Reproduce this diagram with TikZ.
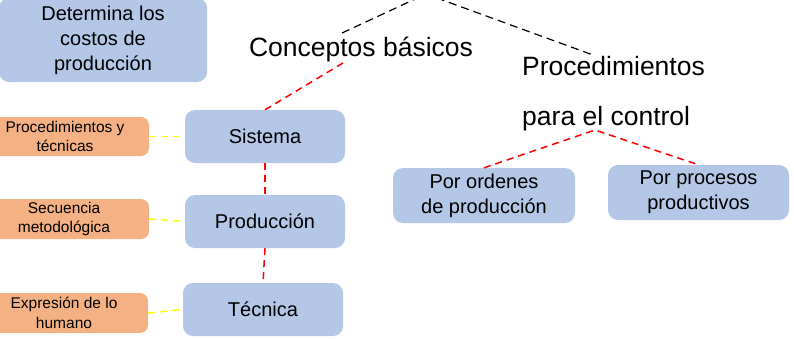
\documentclass[tikz,border=0pt]{standalone}
\usepackage{fontspec}
\setmainfont{Liberation Sans}
\definecolor{boxblue}{HTML}{B4C7E7}
\definecolor{boxorange}{HTML}{F4B183}
\definecolor{lnred}{HTML}{FF0000}
\definecolor{lnyellow}{HTML}{FFFF00}
\begin{document}
\begin{tikzpicture}[x=1pt,y=-1pt,
  bluebox/.style={fill=boxblue, draw=none, rounded corners=10pt, align=center, inner sep=0pt,
    font=\fontsize{20}{25}\selectfont},
  orangebox/.style={fill=boxorange, draw=none, rounded corners=8pt, align=center, inner sep=0pt,
    font=\fontsize{15.5}{19.5}\selectfont},
  bigtext/.style={inner sep=0pt, font=\fontsize{26.5}{30}\selectfont},
  reddash/.style={draw=lnred, line width=1.5pt, dash pattern=on 7pt off 5pt},
  blackdash/.style={draw=black, line width=1.2pt, dash pattern=on 8pt off 5pt},
  yellowdash/.style={draw=lnyellow, line width=1.5pt, dash pattern=on 7pt off 5pt}]
\useasboundingbox (0,0) rectangle (794,338);
\clip (0,0) rectangle (794,338);

% boxes
\node[bluebox, minimum width=208pt, minimum height=84pt] (det) at (103,40) {Determina los\\costos de\\producción};
\node[bluebox, minimum width=160pt, minimum height=53pt] (sis) at (265,136.5) {Sistema};
\node[bluebox, minimum width=160pt, minimum height=53pt] (pro) at (265,221.5) {Producción};
\node[bluebox, minimum width=160pt, minimum height=53pt] (tec) at (263,309.5) {Técnica};
\node[bluebox, minimum width=182pt, minimum height=55pt] (ord) at (484,195.5) {Por ordenes\\de producción};
\node[bluebox, minimum width=181pt, minimum height=55pt] (prc) at (698.5,192.5) {Por procesos\\productivos};

\node[orangebox, minimum width=168pt, minimum height=39pt] (o1) at (65,136.5) {Procedimientos y\\técnicas};
\node[orangebox, minimum width=170pt, minimum height=40pt] (o2) at (64,219) {Secuencia\\metodológica};
\node[orangebox, minimum width=168pt, minimum height=40pt] (o3) at (64,313) {Expresión de lo\\humano};

% free texts
\node[bigtext, anchor=base] (cb) at (361,56) {Conceptos básicos};
\node[bigtext, anchor=base west] (pc1) at (522,75) {Procedimientos};
\node[bigtext, anchor=base west] (pc2) at (522,125) {para el control};

% connector points
\coordinate (apex) at (426,-6);
\coordinate (cbtop) at (342,33);
\coordinate (cbbot) at (343,63);
\coordinate (pctop) at (593,55);
\coordinate (pcbot) at (595,130);

% black dashed
\draw[blackdash] (cbtop) -- (apex) -- (pctop);

% red dashed
\draw[reddash] (cbbot) -- (sis.north);
\draw[reddash] (sis.south) -- (pro.north);
\draw[reddash] (pro.south) -- (tec.north);
\draw[reddash] (ord.north) -- (pcbot) -- (prc.north);

% yellow dashed
\draw[yellowdash] (o1.east) -- (sis.west);
\draw[yellowdash] (o2.east) -- (pro.west);
\draw[yellowdash] (o3.east) -- (tec.west);
\end{tikzpicture}
\end{document}
